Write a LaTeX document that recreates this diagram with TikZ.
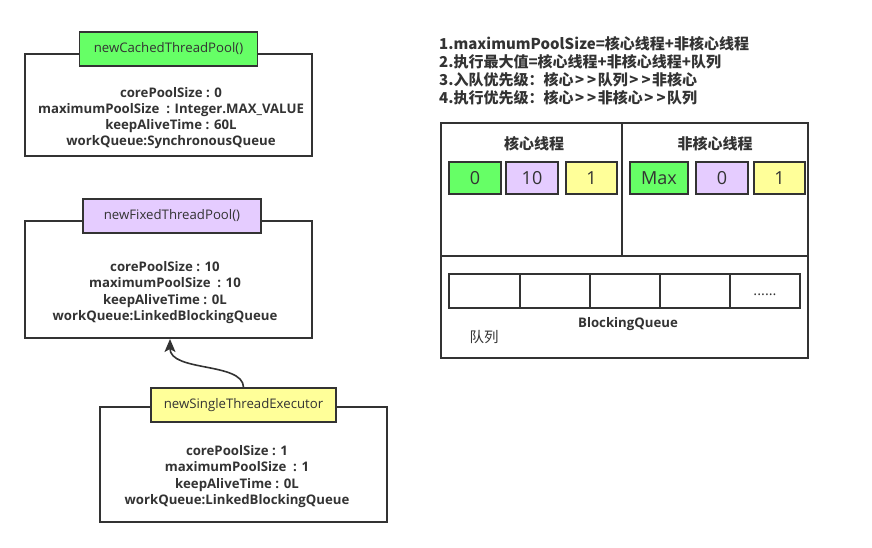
\documentclass[tikz,border=0pt]{standalone}
\usepackage{fontspec}
\setmainfont{Open Sans}
\newfontfamily\cjk{Noto Sans CJK SC}
\usetikzlibrary{arrows.meta}
\definecolor{gr}{HTML}{66FF66}
\definecolor{pu}{HTML}{E5CCFF}
\definecolor{ye}{HTML}{FFFF99}
\definecolor{ln}{HTML}{333333}
\newcommand{\mygt}{\kern1.5pt>\kern1.5pt}
\tikzset{
  outerbox/.style={draw=ln, line width=1.6pt, fill=white, rectangle, inner sep=0pt},
  titlebox/.style={draw=ln, line width=1.6pt, rectangle, inner sep=0pt, text=ln, font=\fontsize{13.2}{15}\selectfont},
  bodytext/.style={align=center, text=ln, font=\bfseries\fontsize{13.2}{16.2}\selectfont, inner sep=0pt},
  cell/.style={draw=ln, line width=1.6pt, rectangle, inner sep=0pt, text=ln, font=\fontsize{18}{20}\selectfont},
  qcell/.style={draw=ln, line width=1.6pt, rectangle, inner sep=0pt, minimum width=70pt, minimum height=34pt},
  cjktext/.style={text=ln, font=\cjk\bfseries\fontsize{15}{18}\selectfont, inner sep=0pt},
}
\begin{document}
\begin{tikzpicture}[x=1pt,y=-1pt]
\useasboundingbox (0,0) rectangle (872,547);
% box 1
\node[outerbox, minimum width=287pt, minimum height=102pt] (b1) at (168.5,105) {};
\node[titlebox, fill=gr, minimum width=178pt, minimum height=34pt] (t1) at (168.5,49) {newCachedThreadPool()};
\node[bodytext] (x1) at (171,118) {corePoolSize : 0\\maximumPoolSize~~: Integer.MAX\_VALUE\\keepAliveTime : 60L\\workQueue:SynchronousQueue};
% box 2
\node[outerbox, minimum width=287pt, minimum height=117pt] (b2) at (168.5,279.5) {};
\node[titlebox, fill=pu, minimum width=178pt, minimum height=34pt] (t2) at (172,216) {newFixedThreadPool()};
\node[bodytext] (x2) at (165,292.5) {corePoolSize : 10\\maximumPoolSize~~: 10\\keepAliveTime : 0L\\workQueue:LinkedBlockingQueue};
% box 3
\node[outerbox, minimum width=287pt, minimum height=115pt] (b3) at (243.5,464.5) {};
\node[titlebox, fill=ye, minimum width=185pt, minimum height=34pt] (t3) at (243.5,405) {newSingleThreadExecutor};
\node[bodytext] (x3) at (237,476.5) {corePoolSize : 1\\maximumPoolSize~~: 1\\keepAliveTime : 0L\\workQueue:LinkedBlockingQueue};
% arrow
\coordinate (a2) at (170,339);
\draw[ln, line width=1.6pt, -{Stealth[length=13pt,width=11pt,inset=3pt]}] (t3.north) .. controls (243,362) and (170,372) .. (a2);
% notes
\node[cjktext, anchor=west, align=left] (notes) at (439,71) {1.maximumPoolSize=核心线程+非核心线程\\2.执行最大值=核心线程+非核心线程+队列\\3.入队优先级：核心\mygt\mygt 队列\mygt\mygt 非核心\\4.执行优先级：核心\mygt\mygt 非核心\mygt\mygt 队列};
% big box
\node[outerbox, minimum width=367pt, minimum height=235pt] (big) at (624.5,240.5) {};
\coordinate (hl) at (441,256);
\coordinate (hr) at (808,256);
\draw[ln, line width=1.6pt] (hl) -- (hr);
\coordinate (vt) at (622,123);
\coordinate (vb) at (622,256);
\draw[ln, line width=1.6pt] (vt) -- (vb);
\node[cjktext] (h1) at (534,144) {核心线程};
\node[cjktext] (h2) at (715,144) {非核心线程};
\node[cell, fill=gr, minimum width=52pt, minimum height=32pt] (c1) at (475,178) {0};
\node[cell, fill=pu, minimum width=52pt, minimum height=32pt] (c2) at (532,178) {10};
\node[cell, fill=ye, minimum width=51pt, minimum height=32pt] (c3) at (591.5,178) {1};
\node[cell, fill=gr, minimum width=58pt, minimum height=32pt] (c4) at (659,178) {Max};
\node[cell, fill=pu, minimum width=52pt, minimum height=32pt] (c5) at (722,178) {0};
\node[cell, fill=ye, minimum width=51pt, minimum height=32pt] (c6) at (779.5,178) {1};
% queue
\node[qcell, minimum width=71pt] (q1) at (484.5,291) {};
\node[qcell] (q2) at (555,291) {};
\node[qcell] (q3) at (625,291) {};
\node[qcell] (q4) at (695,291) {};
\node[qcell] (q5) at (765,291) {};
\node[text=ln, font=\fontsize{14.5}{16}\selectfont, inner sep=0pt] (dots) at (765,295) {......};
\node[bodytext, font=\bfseries\fontsize{13.2}{15}\selectfont] (bq) at (628,324) {BlockingQueue};
\node[cjktext, font=\cjk\fontsize{14.5}{16}\selectfont] (ql) at (484,337) {队列};
\end{tikzpicture}
\end{document}
